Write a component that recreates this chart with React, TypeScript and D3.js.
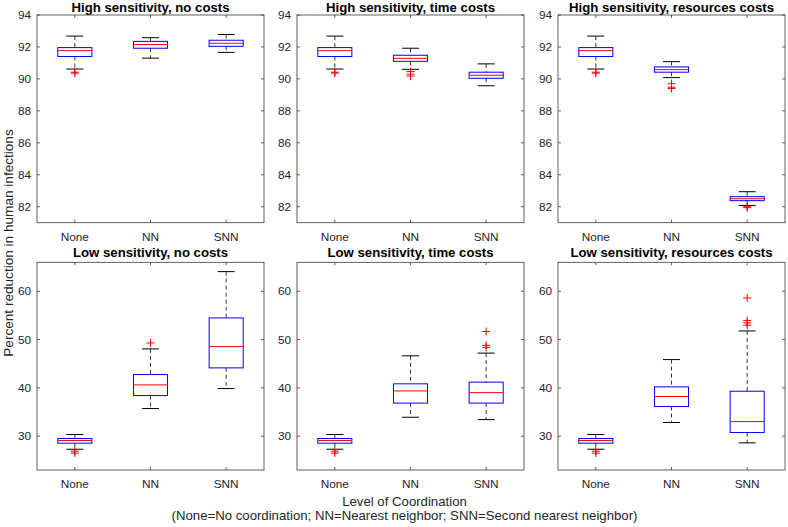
import React from "react";
import * as d3 from "d3";

// ---------- data ----------
const categories = ["None", "NN", "SNN"];

const panelTitles = [
  "High sensitivity, no costs",
  "High sensitivity, time costs",
  "High sensitivity, resources costs",
  "Low sensitivity, no costs",
  "Low sensitivity, time costs",
  "Low sensitivity, resources costs",
];

// [lower whisker, q1, median, q3, upper whisker]
const highNoCosts = [
  [90.62, 91.4, 91.77, 91.96, 92.68],
  [91.3, 91.92, 92.15, 92.35, 92.58],
  [91.66, 92.04, 92.23, 92.42, 92.78],
];
const highNoCostsOut = [[90.42, 90.36], [], []];

const highTimeCosts = [
  [90.62, 91.4, 91.77, 91.96, 92.68],
  [90.6, 91.1, 91.29, 91.48, 91.92],
  [89.57, 90.04, 90.23, 90.42, 90.94],
];
const highTimeCostsOut = [[90.42, 90.36], [90.46, 90.3, 90.18], []];

const highResCosts = [
  [90.62, 91.4, 91.77, 91.96, 92.68],
  [90.08, 90.42, 90.58, 90.75, 91.08],
  [82.08, 82.38, 82.5, 82.63, 82.94],
];
const highResCostsOut = [[90.42, 90.36], [89.7, 89.48, 89.4], [82.0, 81.94]];

const lowNoCosts = [
  [27.3, 28.55, 29.1, 29.52, 30.35],
  [35.72, 38.41, 40.62, 42.76, 48.07],
  [39.86, 44.14, 48.55, 54.48, 64.07],
];
const lowNoCostsOut = [[26.9, 26.5], [49.3], []];

const lowTimeCosts = [
  [27.3, 28.55, 29.1, 29.52, 30.35],
  [33.92, 36.85, 39.37, 40.84, 46.64],
  [33.43, 36.85, 39.02, 41.19, 47.2],
];
const lowTimeCostsOut = [[26.9, 26.5], [], [51.68, 48.81, 48.39]];

const lowResCosts = [
  [27.3, 28.55, 29.1, 29.52, 30.35],
  [32.83, 36.14, 38.21, 40.21, 45.86],
  [28.62, 30.76, 33.03, 39.31, 51.79],
];
const lowResCostsOut = [[26.9, 26.5], [], [58.62, 53.93, 53.45, 52.97]];

const highTicks = [82, 84, 86, 88, 90, 92, 94];
const lowTicks = [30, 40, 50, 60];
const highDomain = [81, 94];
const lowDomain = [23, 66];

const panelStats = [highNoCosts, highTimeCosts, highResCosts, lowNoCosts, lowTimeCosts, lowResCosts];
const panelOut = [highNoCostsOut, highTimeCostsOut, highResCostsOut, lowNoCostsOut, lowTimeCostsOut, lowResCostsOut];

// ---------- layout ----------
const W = 788;
const H = 527;
const panelLefts = [37, 297, 558];
const panelW = 227;
const rowTops = [15, 262.3];
const titleBaselines = [11.9, 257.3];
const panelH = 207.7;
const FONT = "'Liberation Sans', Arial, Helvetica, sans-serif";
const TXT = "#262626";
const AX = "#3a3a3a";

function Panel({ idx }: { idx: number }) {
  const row = idx < 3 ? 0 : 1;
  const col = idx % 3;
  const x0 = panelLefts[col];
  const y0 = rowTops[row];
  const dom = row === 0 ? highDomain : lowDomain;
  const ticks = row === 0 ? highTicks : lowTicks;
  const x = d3.scaleLinear().domain([0.5, 3.5]).range([x0, x0 + panelW]);
  const y = d3.scaleLinear().domain(dom).range([y0 + panelH, y0]);
  const unit = x(2) - x(1);
  const bw = unit * 0.45;
  const cw = bw * 0.5;
  const stats = panelStats[idx];
  const outs = panelOut[idx];
  const tl = 3;
  return (
    <g>
      <text
        x={x0 + panelW / 2}
        y={titleBaselines[row]}
        textAnchor="middle"
        fontFamily={FONT}
        fontWeight="bold"
        fontSize={13.2}
        fill="#000"
      >
        {panelTitles[idx]}
      </text>
      {/* y ticks */}
      {ticks.map((t) => (
        <g key={"y" + t}>
          <line x1={x0} x2={x0 + tl} y1={y(t)} y2={y(t)} stroke={AX} strokeWidth={0.8} />
          <line x1={x0 + panelW} x2={x0 + panelW - tl} y1={y(t)} y2={y(t)} stroke={AX} strokeWidth={0.8} />
          <text x={x0 - 6} y={y(t)} dy="0.35em" textAnchor="end" fontFamily={FONT} fontSize={11.8} fill={TXT}>
            {t}
          </text>
        </g>
      ))}
      {/* x ticks */}
      {categories.map((c, i) => (
        <g key={"x" + c}>
          <line x1={x(i + 1)} x2={x(i + 1)} y1={y0 + panelH} y2={y0 + panelH - tl} stroke={AX} strokeWidth={0.8} />
          <line x1={x(i + 1)} x2={x(i + 1)} y1={y0} y2={y0 + tl} stroke={AX} strokeWidth={0.8} />
          <text x={x(i + 1)} y={y0 + panelH + 18.3} textAnchor="middle" fontFamily={FONT} fontSize={11.8} fill={TXT}>
            {c}
          </text>
        </g>
      ))}
      {/* boxes */}
      {stats.map((s, i) => {
        const cx = x(i + 1);
        const [lo, q1, med, q3, hi] = s;
        return (
          <g key={"b" + i}>
            <line x1={cx} x2={cx} y1={y(hi)} y2={y(q3)} stroke="#000" strokeWidth={0.8} strokeDasharray="4,3" />
            <line x1={cx} x2={cx} y1={y(q1)} y2={y(lo)} stroke="#000" strokeWidth={0.8} strokeDasharray="4,3" />
            <line x1={cx - cw / 2} x2={cx + cw / 2} y1={y(hi)} y2={y(hi)} stroke="#000" strokeWidth={1} />
            <line x1={cx - cw / 2} x2={cx + cw / 2} y1={y(lo)} y2={y(lo)} stroke="#000" strokeWidth={1} />
            <rect x={cx - bw / 2} y={y(q3)} width={bw} height={y(q1) - y(q3)} fill="none" stroke="#0000ff" strokeWidth={1} />
            <line x1={cx - bw / 2} x2={cx + bw / 2} y1={y(med)} y2={y(med)} stroke="#ff0000" strokeWidth={1} />
            {outs[i].map((o, k) => (
              <g key={"o" + k} stroke="#ff0000" strokeWidth={1}>
                <line x1={cx - 4} x2={cx + 4} y1={y(o)} y2={y(o)} />
                <line x1={cx} x2={cx} y1={y(o) - 4} y2={y(o) + 4} />
              </g>
            ))}
          </g>
        );
      })}
      <rect x={x0} y={y0} width={panelW} height={panelH} fill="none" stroke={AX} strokeWidth={0.8} />
    </g>
  );
}

export default function App() {
  return (
    <svg width={W} height={H} style={{ display: "block", position: "absolute", left: 0, top: 0, background: "#fff" }}>
      <rect width={W} height={H} fill="#fff" />
      {[0, 1, 2, 3, 4, 5].map((i) => (
        <Panel key={i} idx={i} />
      ))}
      <text
        transform="translate(12.5,243) rotate(-90)"
        textAnchor="middle"
        fontFamily={FONT}
        fontSize={13.6}
        fill={TXT}
      >
        Percent reduction in human infections
      </text>
      <text x={404.5} y={506.3} textAnchor="middle" fontFamily={FONT} fontSize={13.2} fill={TXT}>
        Level of Coordination
      </text>
      <text x={404.5} y={519.7} textAnchor="middle" fontFamily={FONT} fontSize={13.2} fill={TXT}>
        (None=No coordination; NN=Nearest neighbor; SNN=Second nearest neighbor)
      </text>
    </svg>
  );
}
